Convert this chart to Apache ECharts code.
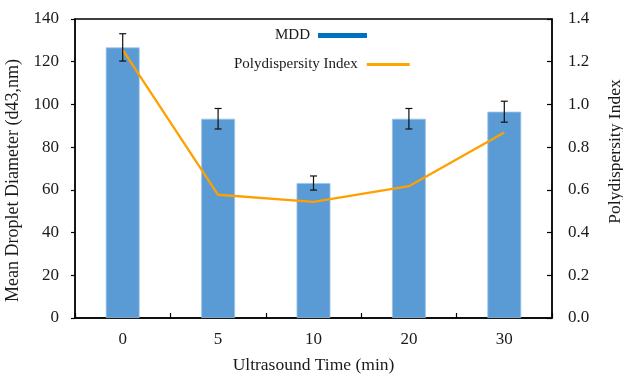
<!DOCTYPE html>
<html>
<head>
<meta charset="utf-8">
<script src="https://cdn.jsdelivr.net/npm/echarts@6/dist/echarts.min.js"></script>
<style>
  html, body { margin: 0; padding: 0; background: #fff; }
  #chart { width: 623px; height: 374px; }
</style>
</head>
<body>
<div id="chart"></div>
<script>
// Ultrasound treatment time (min)
const categories = ['0', '5', '10', '20', '30'];
// Mean droplet diameter d43 (nm)
const mddValues = [126.7, 93.3, 63.2, 93.3, 96.6];
// Standard deviation of the diameter (nm)
const mddErrors = [6.4, 4.8, 3.3, 4.8, 4.9];
// Polydispersity index
const pdiValues = [1.255, 0.577, 0.544, 0.617, 0.868];
// Axis tick settings
const leftTicks = { min: 0, max: 140, interval: 20 };
const rightTicks = { min: 0, max: 1.4, interval: 0.2 };

const FONT = '"Liberation Serif", "Times New Roman", serif';
const TXT = '#1a1a1a';

const errorData = mddValues.map((v, i) => [i, v - mddErrors[i], v + mddErrors[i]]);

const chart = echarts.init(document.getElementById('chart'), null, { renderer: 'canvas' });

chart.setOption({
  animation: false,
  backgroundColor: '#fff',
  textStyle: { fontFamily: FONT },
  grid: {
    left: 75, right: 71, top: 19, bottom: 56,
    containLabel: false,
    outerBoundsMode: 'none',
    show: true, borderColor: '#000', borderWidth: 1.3, backgroundColor: 'transparent'
  },
  legend: [
    {
      data: [{ name: 'MDD', itemStyle: { color: '#0070C0', borderWidth: 0 } }],
      left: 275, top: 28, padding: 0,
      align: 'right', icon: 'rect',
      itemWidth: 49, itemHeight: 5,
      textStyle: { fontFamily: FONT, fontSize: 15, color: TXT, padding: [0, 3, 0, 0] }
    },
    {
      data: [{ name: 'Polydispersity Index', itemStyle: { color: '#FFA500', borderWidth: 0 } }],
      left: 234, top: 57, padding: 0,
      align: 'right', icon: 'rect',
      itemWidth: 43, itemHeight: 3,
      textStyle: { fontFamily: FONT, fontSize: 15, color: TXT, padding: [0, 4, 0, 0] }
    }
  ],
  xAxis: {
    type: 'category',
    data: categories,
    boundaryGap: true,
    name: 'Ultrasound Time (min)',
    nameLocation: 'middle',
    nameGap: 38,
    nameTextStyle: { fontFamily: FONT, fontSize: 17.5, color: TXT },
    axisLine: { onZero: false, lineStyle: { color: '#000', width: 1.5 } },
    axisTick: { show: true, inside: true, length: 5, lineStyle: { color: '#000', width: 1.2 } },
    axisLabel: { fontFamily: FONT, fontSize: 17, color: TXT, margin: 13 },
    splitLine: { show: false }
  },
  yAxis: [
    {
      type: 'value',
      position: 'left',
      min: leftTicks.min, max: leftTicks.max, interval: leftTicks.interval,
      name: 'Mean Droplet Diameter (d43,nm)',
      nameLocation: 'middle',
      nameRotate: 90,
      nameGap: 48,
      nameTextStyle: { fontFamily: FONT, fontSize: 18, color: TXT, padding: [0, 24, 0, 0] },
      axisLine: { show: true, onZero: false, lineStyle: { color: '#000', width: 1.5 } },
      axisTick: { show: true, inside: false, length: 4, lineStyle: { color: '#000', width: 1.2 } },
      axisLabel: { fontFamily: FONT, fontSize: 17, color: TXT, margin: 16 },
      splitLine: { show: false }
    },
    {
      type: 'value',
      position: 'right',
      min: rightTicks.min, max: rightTicks.max, interval: rightTicks.interval,
      name: 'Polydispersity Index',
      nameLocation: 'middle',
      nameRotate: 90,
      nameGap: 54,
      nameTextStyle: { fontFamily: FONT, fontSize: 17.5, color: TXT, padding: [0, 0, 0, 34] },
      axisLine: { show: true, onZero: false, lineStyle: { color: '#000', width: 1.5 } },
      axisTick: { show: true, inside: true, length: 5, lineStyle: { color: '#000', width: 1.2 } },
      axisLabel: {
        fontFamily: FONT, fontSize: 17, color: TXT, margin: 16,
        formatter: v => v.toFixed(1)
      },
      splitLine: { show: false }
    }
  ],
  series: [
    {
      name: 'MDD',
      type: 'bar',
      yAxisIndex: 0,
      data: mddValues,
      barWidth: '35.5%',
      itemStyle: { color: '#5B9BD5', borderColor: '#9CC3E6', borderWidth: 0.8 },
      z: 2
    },
    {
      name: 'MDD error',
      type: 'custom',
      yAxisIndex: 0,
      data: errorData,
      z: 4,
      renderItem: function (params, api) {
        const x = api.value(0);
        const lo = api.coord([x, api.value(1)]);
        const hi = api.coord([x, api.value(2)]);
        const cap = 3.5;
        const style = { stroke: '#111', lineWidth: 1.2, fill: null };
        return {
          type: 'group',
          children: [
            { type: 'line', shape: { x1: lo[0], y1: lo[1], x2: hi[0], y2: hi[1] }, style },
            { type: 'line', shape: { x1: hi[0] - cap, y1: hi[1], x2: hi[0] + cap, y2: hi[1] }, style },
            { type: 'line', shape: { x1: lo[0] - cap, y1: lo[1], x2: lo[0] + cap, y2: lo[1] }, style }
          ]
        };
      }
    },
    {
      name: 'Polydispersity Index',
      type: 'line',
      yAxisIndex: 1,
      data: pdiValues,
      symbol: 'none',
      lineStyle: { color: '#FFA000', width: 2.3 },
      itemStyle: { color: '#FFA000' },
      z: 3
    }
  ]
});
</script>
</body>
</html>
